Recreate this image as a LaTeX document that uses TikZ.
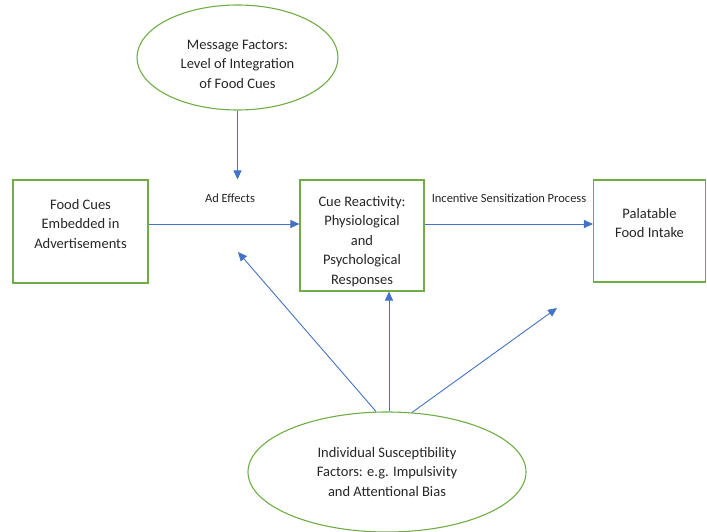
\documentclass[tikz,border=0pt]{standalone}
\usepackage{fontspec}
\setmainfont{Carlito}
\usepackage{tikz}
\usetikzlibrary{positioning}
\usetikzlibrary{arrows.meta}
\usetikzlibrary{shapes.geometric}

\definecolor{boxgreen}{RGB}{112,173,71}
\definecolor{flowblue}{RGB}{68,114,196}

\tikzset{
    factor/.style={ellipse, draw=boxgreen, line width=1.1pt, align=center,
        font=\fontsize{14.5}{19.5}\selectfont, text=black!85},
    stage/.style={rectangle, draw=boxgreen, line width=1.1pt, align=center,
        font=\fontsize{14.5}{19.5}\selectfont, text=black!85},
    flow/.style={draw=flowblue, line width=0.9pt, -{Triangle[length=9pt,width=8pt]}},
    tag/.style={font=\fontsize{12.5}{15}\selectfont, text=black!85}
}

\begin{document}
\begin{tikzpicture}[x=1pt, y=-1pt]
    \useasboundingbox (0,0) rectangle (707,532);
    \node[factor, minimum width=201pt, minimum height=105pt] (msg) at (237.5,57.5)
        {\mbox{}\\[3pt]Message Factors:\\Level of Integration\\of Food Cues};
    \node[stage, minimum width=135pt, minimum height=103pt] (cues) at (80.5,231.5)
        {Food Cues\\Embedded in\\Advertisements\\[-3.5pt]};
    \node[stage, minimum width=124pt, minimum height=111pt] (react) at (362,235.5)
        {\mbox{}\\[2.5pt]Cue Reactivity:\\Physiological\\and\\Psychological\\Responses};
    \node[stage, minimum width=112pt, minimum height=102pt] (intake) at (649.5,231)
        {Palatable\\Food Intake\\[-3.5pt]};
    \node[factor, minimum width=278pt, minimum height=120pt] (indiv) at (387,472)
        {Individual Susceptibility\\Factors: e.g. Impulsivity\\and Attentional Bias};

    \node[tag] (adlbl) at (230,198) {Ad Effects};
    \node[tag] (islbl) at (509,198) {Incentive Sensitization Process};

    % main row of arrows
    \coordinate (axis) at (0,224);
    \draw[flow] (msg.south) -- (msg.south |- react.north);
    \draw[flow] (cues.east |- axis) -- (react.west |- axis);
    \draw[flow] (react.east |- axis) -- (intake.west |- axis);

    % moderating arrows from below
    \coordinate (modleft) at (238,252);
    \coordinate (modright) at (557,308);
    \draw[flow] ([xshift=-11pt]indiv.north) -- (modleft);
    \draw[flow] ([xshift=2pt]indiv.north) -- ([xshift=2pt]indiv.north |- react.south);
    \draw[flow] ([xshift=25pt,yshift=-1pt]indiv.north) -- (modright);
\end{tikzpicture}
\end{document}
